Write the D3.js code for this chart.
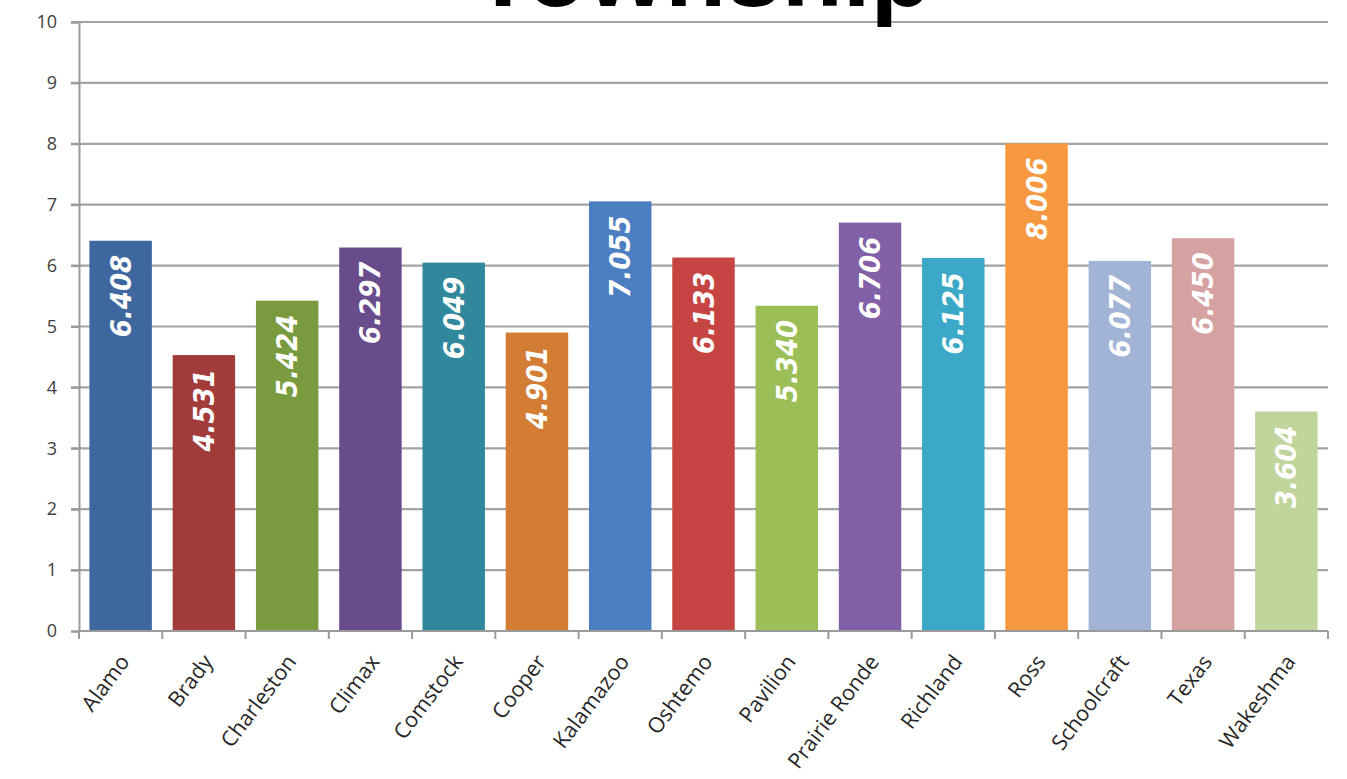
<!DOCTYPE html>
<html>
<head>
<meta charset="utf-8">
<script src="https://cdn.jsdelivr.net/npm/d3@7"></script>
<style>
  html, body { margin: 0; padding: 0; background: #ffffff; overflow: hidden; }
  svg { display: block; }
</style>
</head>
<body>
<svg id="chart" width="1347" height="779"></svg>
<script>
const titleText = "Township";
const categories = ["Alamo", "Brady", "Charleston", "Climax", "Comstock", "Cooper", "Kalamazoo", "Oshtemo", "Pavilion", "Prairie Ronde", "Richland", "Ross", "Schoolcraft", "Texas", "Wakeshma"];
const values = [6.408, 4.531, 5.424, 6.297, 6.049, 4.901, 7.055, 6.133, 5.340, 6.706, 6.125, 8.006, 6.077, 6.450, 3.604];
const barColors = ["#3e679f", "#a23c3b", "#7a9a3e", "#684c8b", "#31889c", "#d27c34", "#4c7fc2", "#c64542", "#9bbf56", "#8260a8", "#3aa8c6", "#f59840", "#a2b4d6", "#d6a1a1", "#c0d59c"];
const yTicks = [0, 1, 2, 3, 4, 5, 6, 7, 8, 9, 10];

const svg = d3.select("#chart");
const plotLeft = 79, plotRight = 1328, plotTop = 22, plotBottom = 631;

const x = d3.scaleBand().domain(categories).range([plotLeft, plotRight]).paddingInner(0.25).paddingOuter(0.125);
const y = d3.scaleLinear().domain([0, 10]).range([plotBottom, plotTop]);

// gridlines
svg.append("g")
  .selectAll("line")
  .data(yTicks.filter(d => d > 0))
  .join("line")
  .attr("x1", plotLeft - 8).attr("x2", plotRight)
  .attr("y1", d => y(d)).attr("y2", d => y(d))
  .attr("stroke", "#a3a3a3").attr("stroke-width", 2.2);

// y axis
const yAxis = d3.axisLeft(y).tickValues(yTicks).tickSize(8).tickPadding(14).tickFormat(d3.format("d"));
const yg = svg.append("g").attr("transform", `translate(${plotLeft},0)`).call(yAxis);
yg.select(".domain").attr("stroke", "#9a9a9a").attr("stroke-width", 2);
yg.selectAll(".tick line").attr("stroke", "#9a9a9a").attr("stroke-width", 2);
yg.selectAll(".tick text").attr("fill", "#404040").style("font-family", "'Open Sans', sans-serif").style("font-size", "18px");

// bars
svg.append("g")
  .selectAll("rect")
  .data(categories)
  .join("rect")
  .attr("x", d => x(d))
  .attr("width", x.bandwidth())
  .attr("y", (d, i) => y(values[i]))
  .attr("height", (d, i) => y(0) - y(values[i]))
  .attr("fill", (d, i) => barColors[i]);

// x axis
const xg = svg.append("g").attr("transform", `translate(0,${plotBottom})`);
xg.append("line").attr("x1", plotLeft).attr("x2", plotRight).attr("y1", 0).attr("y2", 0)
  .attr("stroke", "#9a9a9a").attr("stroke-width", 2);
const boundaries = d3.range(categories.length + 1).map(i => plotLeft + i * x.step());
xg.selectAll("line.tk").data(boundaries).join("line").attr("class", "tk")
  .attr("x1", d => d).attr("x2", d => d).attr("y1", 0).attr("y2", 8)
  .attr("stroke", "#9a9a9a").attr("stroke-width", 2);
xg.selectAll("text.cat").data(categories).join("text").attr("class", "cat")
  .attr("transform", d => `translate(${x(d) + x.bandwidth() / 2 + 10},${31}) rotate(-53)`)
  .attr("text-anchor", "end")
  .attr("fill", "#262626")
  .style("font-family", "'Open Sans', sans-serif")
  .style("font-size", "21.5px")
  .text(d => d);

// value labels
svg.append("g")
  .selectAll("text")
  .data(categories)
  .join("text")
  .attr("transform", (d, i) => `translate(${x(d) + x.bandwidth() / 2 + 10},${y(values[i]) + 14}) rotate(-90)`)
  .attr("text-anchor", "end")
  .attr("fill", "#ffffff")
  .style("font-family", "'DejaVu Sans Condensed', 'DejaVu Sans', sans-serif")
  .style("font-weight", "bold")
  .style("font-style", "italic")
  .style("font-size", "29px")
  .text((d, i) => d3.format(".3f")(values[i]));

// title
svg.append("text")
  .attr("x", 702).attr("y", 6)
  .attr("text-anchor", "middle")
  .attr("fill", "#000")
  .style("font-family", "'Liberation Sans', Arial, sans-serif")
  .style("font-weight", "bold")
  .style("font-size", "100px")
  .text(titleText);
</script>
</body>
</html>
